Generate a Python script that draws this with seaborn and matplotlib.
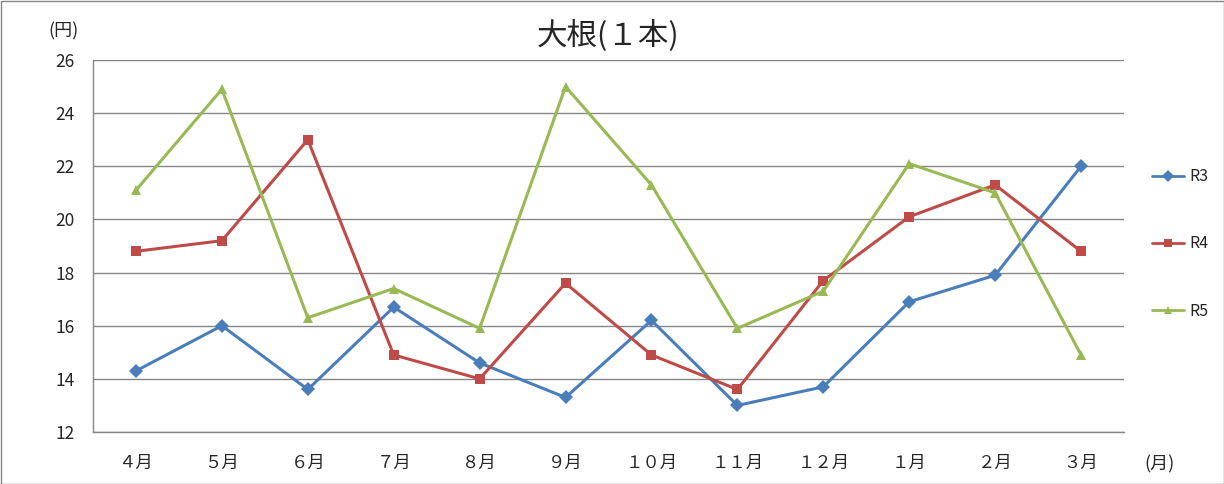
import pandas as pd
import seaborn as sns
import matplotlib.pyplot as plt
from matplotlib.patches import Rectangle

# データ
months = ['４月', '５月', '６月', '７月', '８月', '９月', '１０月', '１１月', '１２月', '１月', '２月', '３月']
r3 = [14.3, 16.0, 13.6, 16.7, 14.6, 13.3, 16.2, 13.0, 13.7, 16.9, 17.9, 22.0]
r4 = [18.8, 19.2, 23.0, 14.9, 14.0, 17.6, 14.9, 13.6, 17.7, 20.1, 21.3, 18.8]
r5 = [21.1, 24.9, 16.3, 17.4, 15.9, 25.0, 21.3, 15.9, 17.3, 22.1, 21.0, 14.9]
series = ['R3', 'R4', 'R5']
yticks = [12, 14, 16, 18, 20, 22, 24, 26]

df = pd.DataFrame({
    'pos': list(range(len(months))) * 3,
    'value': r3 + r4 + r5,
    'series': [s for s in series for _ in months],
})

sns.set_style('white')
plt.rcParams['font.family'] = ['Noto Sans CJK JP', 'DejaVu Sans']

fig = plt.figure(figsize=(12.24, 4.84), dpi=100)
ax = fig.add_axes([93 / 1224, 1 - 432 / 484, (1124 - 93) / 1224, (432 - 60) / 484])

palette = {'R3': '#4A7EBB', 'R4': '#BE4B48', 'R5': '#98B954'}
markers = {'R3': 'D', 'R4': 's', 'R5': '^'}
sns.lineplot(data=df, x='pos', y='value', hue='series', style='series',
             palette=palette, markers=markers, dashes=False, linewidth=2.2,
             markersize=7, markeredgewidth=0, ax=ax, legend=False)

ax.set_xlim(-0.5, len(months) - 0.5)
ax.set_ylim(12, 26)
ax.set_yticks(yticks)
ax.set_yticklabels([str(v) for v in yticks], fontsize=12.5)
ax.set_xticks(range(len(months)))
ax.set_xticklabels(months, fontsize=12.5)
ax.set_xticks([i - 0.5 for i in range(len(months) + 1)], minor=True)
ax.tick_params(axis='x', which='major', length=0, pad=16)
ax.tick_params(axis='x', which='minor', length=6, color='#868686', width=1)
ax.tick_params(axis='y', length=5, color='#868686', width=1, pad=8)
ax.grid(axis='y', color='#868686', linewidth=1)
ax.set_xlabel('')
ax.set_ylabel('')
for side in ['top', 'right']:
    ax.spines[side].set_visible(False)
for side in ['left', 'bottom']:
    ax.spines[side].set_color('#868686')
    ax.spines[side].set_linewidth(1)

fig.text(608 / 1224, 1 - 36 / 484, '大根(１本)', fontsize=22, ha='center', va='center')
fig.text(64 / 1224, 1 - 31 / 484, '(円)', fontsize=13, ha='center', va='center')
fig.text(1160 / 1224, 1 - 464 / 484, '(月)', fontsize=13, ha='center', va='center')

handles = [plt.Line2D([], [], color=palette[s], marker=markers[s], markersize=6,
                      linewidth=2, markeredgewidth=0) for s in series]
fig.legend(handles, series, loc='center left', bbox_to_anchor=(1138 / 1224, 1 - 244 / 484),
           frameon=False, fontsize=11.5, handlelength=2.0, handletextpad=0.3, labelspacing=3.15)

fig.patches.append(Rectangle((0.5 / 1224, 0.5 / 484), 1 - 1 / 1224, 1 - 1 / 484,
                             transform=fig.transFigure, fill=False, edgecolor='#868686', linewidth=1))

fig.savefig('out.png', dpi=100)
